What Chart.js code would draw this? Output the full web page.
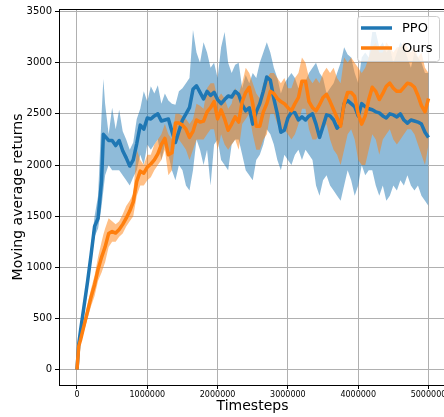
<!DOCTYPE html>
<html>
<head>
<meta charset="utf-8">
<script src="https://cdn.jsdelivr.net/npm/chart.js@4.4.0/dist/chart.umd.min.js"></script>
<style>
html, body { margin: 0; padding: 0; background: #fff; overflow: hidden; }
#wrap { width: 460px; height: 417px; position: relative; }
</style>
</head>
<body>
<div id="wrap"><canvas id="returnsChart"></canvas></div>
<script>
// timesteps, in thousands
const stepsK = [
    0, 25, 50, 100, 150, 200, 250, 300, 350, 375, 400,
    450, 500, 550, 600, 650, 700, 750, 800, 850, 900,
    950, 1000, 1050, 1100, 1150, 1200, 1250, 1300, 1350, 1400,
    1450, 1500, 1550, 1600, 1650, 1700, 1750, 1800, 1850, 1900,
    1950, 2000, 2050, 2100, 2150, 2200, 2250, 2300, 2350, 2400,
    2450, 2500, 2550, 2600, 2650, 2700, 2750, 2800, 2850, 2900,
    2950, 3000, 3050, 3100, 3150, 3200, 3250, 3300, 3350, 3400,
    3450, 3500, 3550, 3600, 3650, 3700, 3750, 3800, 3850, 3900,
    3950, 4000, 4050, 4100, 4150, 4200, 4250, 4300, 4350, 4400,
    4450, 4500, 4550, 4600, 4650, 4700, 4750, 4800, 4850, 4900,
    4950, 5000
]

const ppoMean = [
    0, 250, 380, 620, 860, 1120, 1400, 1480, 1850, 2300, 2280,
    2240, 2240, 2190, 2240, 2140, 2070, 1990, 2050, 2210, 2390,
    2350, 2460, 2450, 2480, 2500, 2430, 2440, 2450, 2330, 2220,
    2330, 2440, 2500, 2560, 2740, 2775, 2710, 2645, 2720, 2680,
    2710, 2640, 2600, 2640, 2675, 2665, 2720, 2690, 2590, 2530,
    2560, 2400, 2520, 2600, 2720, 2860, 2830, 2650, 2500, 2320,
    2340, 2460, 2515, 2510, 2440, 2470, 2440, 2480, 2500, 2400,
    2270, 2380, 2490, 2480, 2440, 2360, 2400, 2600, 2630, 2600,
    2570, 2480, 2600, 2570, 2550, 2540, 2520, 2510, 2480, 2460,
    2500, 2490, 2470, 2500, 2440, 2410, 2440, 2430, 2420, 2400,
    2320, 2270
]
const ppoHigh = [
    0, 280, 420, 680, 920, 1200, 1500, 1700, 2500, 2840, 2600,
    2300, 2560, 2350, 2540, 2330, 2250, 2150, 2220, 2450, 2550,
    2720, 2620, 2770, 2700, 2780, 2600, 2700, 2630, 2600, 2590,
    2720, 2750, 2800, 2850, 3320, 3100, 3000, 3200, 3100, 2950,
    3000, 2850, 3150, 3300, 3000, 2900, 2980, 3000, 2750, 2880,
    2800, 2900, 2850, 3000, 3100, 3200, 3100, 2950, 2850, 2700,
    2800, 2850, 2900, 2850, 2750, 2800, 2820, 2900, 2950, 3000,
    2900, 2850, 2700, 2750, 2800, 2900, 3000, 3150, 3080, 3050,
    2900, 2800, 3050, 3100, 3050, 3300, 3300, 3150, 3200, 3100,
    3150, 3000, 3100, 3200, 3150, 3050, 2950, 3100, 3050, 3000,
    2900, 2900
]
const ppoLow = [
    0, 220, 340, 560, 800, 1050, 1300, 1380, 1600, 1750, 1900,
    2000, 1950, 1950, 1950, 1900, 1850, 1800, 1880, 1950, 2100,
    2000, 2200, 2150, 2200, 2250, 2050, 2200, 2100, 1950, 1850,
    2000, 1950, 1800, 1750, 1950, 2250, 2150, 2000, 2150, 1800,
    2200, 2250, 2050, 2000, 1950, 2200, 2250, 2250, 2100, 1950,
    1900, 1850, 2050, 2100, 2200, 2350, 2300, 2200, 2050, 1950,
    2100, 2050, 2000, 2100, 2150, 2050, 2150, 2100, 2050, 1800,
    1700, 1850, 1900, 1800, 1750, 1700, 1650, 1800, 1950, 1850,
    1700, 1800, 2000, 1900, 1950, 1950, 1800, 1700, 1800, 1650,
    1700, 1800, 1750, 1850, 1800, 1900, 1800, 1750, 1800, 1700,
    1650, 1600
]

const oursMean = [
    0, 230, 290, 430, 570, 710, 830, 980, 1100, 1150, 1200,
    1330, 1350, 1335, 1370, 1420, 1480, 1550, 1640, 1840, 1940,
    1920, 1980, 2010, 2050, 2110, 2200, 2260, 2100, 2120, 2410,
    2410, 2390, 2350, 2270, 2330, 2440, 2420, 2430, 2520, 2560,
    2620, 2450, 2540, 2450, 2340, 2400, 2470, 2420, 2620, 2710,
    2760, 2600, 2380, 2380, 2520, 2600, 2720, 2700, 2650, 2620,
    2600, 2560, 2530, 2600, 2660, 2820, 2820, 2620, 2560, 2530,
    2590, 2660, 2690, 2620, 2540, 2460, 2380, 2600, 2710, 2710,
    2670, 2500, 2400, 2480, 2640, 2760, 2720, 2640, 2700, 2770,
    2800, 2750, 2720, 2720, 2760, 2800, 2790, 2760, 2680, 2580,
    2520, 2650
]
const oursHigh = [
    0, 260, 330, 480, 640, 790, 920, 1100, 1250, 1320, 1380,
    1480, 1450, 1420, 1450, 1520, 1600, 1650, 1720, 2150, 2050,
    2000, 2100, 2100, 2200, 2250, 2300, 2400, 2300, 2250, 2500,
    2500, 2480, 2450, 2400, 2450, 2600, 2580, 2550, 2750, 2800,
    2800, 2650, 2700, 2650, 2550, 2600, 2750, 2700, 2800, 2950,
    2900, 2800, 2700, 2650, 2800, 2850, 2900, 2900, 2850, 2800,
    2850, 2750, 2750, 2850, 2900, 3050, 3000, 2850, 2800, 2850,
    2800, 2900, 2950, 2900, 2950, 2850, 2800, 3050, 3000, 3050,
    3000, 2950, 2900, 2950, 3050, 3150, 3200, 3100, 3100, 3200,
    3150, 3100, 3150, 3150, 3200, 3150, 3100, 3150, 3050, 3100,
    2950, 2900
]
const oursLow = [
    0, 200, 250, 380, 500, 620, 720, 870, 950, 1000, 1050,
    1200, 1250, 1250, 1300, 1330, 1400, 1450, 1500, 1700, 1800,
    1800, 1850, 1880, 1950, 2000, 2050, 2150, 1900, 1950, 2250,
    2250, 2200, 2150, 2050, 2150, 2250, 2250, 2250, 2300, 2350,
    2350, 2150, 2300, 2200, 2150, 2200, 2250, 2150, 2400, 2450,
    2500, 2300, 2150, 2150, 2250, 2300, 2500, 2500, 2400, 2350,
    2350, 2300, 2250, 2300, 2400, 2550, 2550, 2350, 2250, 2250,
    2300, 2350, 2400, 2250, 2150, 2100, 2000, 2150, 2300, 2350,
    2250, 2050, 2000, 2000, 2150, 2300, 2250, 2100, 2250, 2300,
    2350, 2250, 2200, 2250, 2300, 2350, 2350, 2300, 2200, 2100,
    2000, 2200
]

const xTicks = [0, 1000000, 2000000, 3000000, 4000000, 5000000]
const yTicks = [0, 500, 1000, 1500, 2000, 2500, 3000, 3500]
const legendLabels = ['PPO', 'Ours']

const BLUE = '#1f77b4'
const ORANGE = '#ff7f0e'
const FONT = 'DejaVu Sans'

const toPoints = vals => vals.map((v, i) => ({ x: stepsK[i] * 1000, y: v }))

const band = (vals, fill, color, order) => ({
    data: toPoints(vals),
    borderWidth: 0,
    borderColor: 'transparent',
    backgroundColor: color,
    pointRadius: 0,
    fill: fill,
    tension: 0,
    order: order
})

const line = (label, vals, color, order) => ({
    label: label,
    data: toPoints(vals),
    borderColor: color,
    backgroundColor: color,
    borderWidth: 3.5,
    borderJoinStyle: 'round',
    pointRadius: 0,
    fill: false,
    tension: 0,
    order: order
})

// top spine + matplotlib-like legend box
const frameAndLegend = {
    id: 'frameAndLegend',
    afterDatasetsDraw(chart) {
        const { ctx, chartArea } = chart
        ctx.save()
        ctx.strokeStyle = '#000'
        ctx.lineWidth = 1
        ctx.beginPath()
        ctx.moveTo(chartArea.left, chartArea.top + 0.5)
        ctx.lineTo(chartArea.right, chartArea.top + 0.5)
        ctx.stroke()

        const bw = 82, bh = 45
        const bx = chartArea.right - 7 - bw
        const by = chartArea.top + 7
        ctx.beginPath()
        ctx.roundRect(bx + 0.5, by + 0.5, bw, bh, 3)
        ctx.fillStyle = 'rgba(255,255,255,0.8)'
        ctx.fill()
        ctx.strokeStyle = '#cccccc'
        ctx.stroke()

        const colors = [BLUE, ORANGE]
        ctx.font = '13px "' + FONT + '"'
        ctx.textBaseline = 'middle'
        ctx.textAlign = 'left'
        legendLabels.forEach((lab, i) => {
            const y = by + 12 + i * 20
            ctx.strokeStyle = colors[i]
            ctx.lineWidth = 3.5
            ctx.beginPath()
            ctx.moveTo(bx + 4, y)
            ctx.lineTo(bx + 35, y)
            ctx.stroke()
            ctx.fillStyle = '#000'
            ctx.fillText(lab, bx + 45, y + 1)
        })
        ctx.restore()
    }
}

// bands under lines (higher order is drawn first)
new Chart(document.getElementById('returnsChart').getContext('2d'), {
    type: 'line',
    data: {
        datasets: [
            band(ppoHigh, '+1', 'rgba(31,119,180,0.5)', 4),
            band(ppoLow, false, 'rgba(31,119,180,0.5)', 4),
            line(legendLabels[0], ppoMean, BLUE, 2),
            band(oursHigh, '+1', 'rgba(255,127,14,0.5)', 3),
            band(oursLow, false, 'rgba(255,127,14,0.5)', 3),
            line(legendLabels[1], oursMean, ORANGE, 1)
        ]
    },
    options: {
        responsive: true,
        maintainAspectRatio: false,
        animation: false,
        devicePixelRatio: 1,
        layout: { padding: { top: 8, right: 14, left: 0, bottom: 0 } },
        plugins: { legend: { display: false }, tooltip: { enabled: false } },
        scales: {
            x: {
                type: 'linear',
                min: -256000,
                max: 5249000,
                afterBuildTicks: s => { s.ticks = xTicks.map(v => ({ value: v })) },
                afterFit: s => { s.height = 32 },
                ticks: {
                    font: { family: FONT, size: 8 },
                    color: '#000',
                    padding: 1,
                    maxRotation: 0,
                    autoSkip: false,
                    callback: v => String(v)
                },
                grid: { color: '#b0b0b0', lineWidth: 1, tickColor: '#000', tickLength: 4 },
                border: { color: '#000', width: 1 },
                title: {
                    display: true,
                    text: 'Timesteps',
                    color: '#000',
                    font: { family: FONT, size: 14 },
                    padding: { top: 0, bottom: 2 }
                }
            },
            y: {
                min: -150,
                max: 3525,
                afterBuildTicks: s => { s.ticks = yTicks.map(v => ({ value: v })) },
                afterFit: s => { s.width = 59 },
                ticks: {
                    font: { family: FONT, size: 10 },
                    color: '#000',
                    padding: 3,
                    callback: v => String(v)
                },
                grid: { color: '#b0b0b0', lineWidth: 1, tickColor: '#000', tickLength: 4 },
                border: { color: '#000', width: 1 },
                title: {
                    display: true,
                    text: 'Moving average returns',
                    color: '#000',
                    font: { family: FONT, size: 14 },
                    padding: { top: 10, bottom: 0 }
                }
            }
        }
    },
    plugins: [frameAndLegend]
})
</script>
</body>
</html>
